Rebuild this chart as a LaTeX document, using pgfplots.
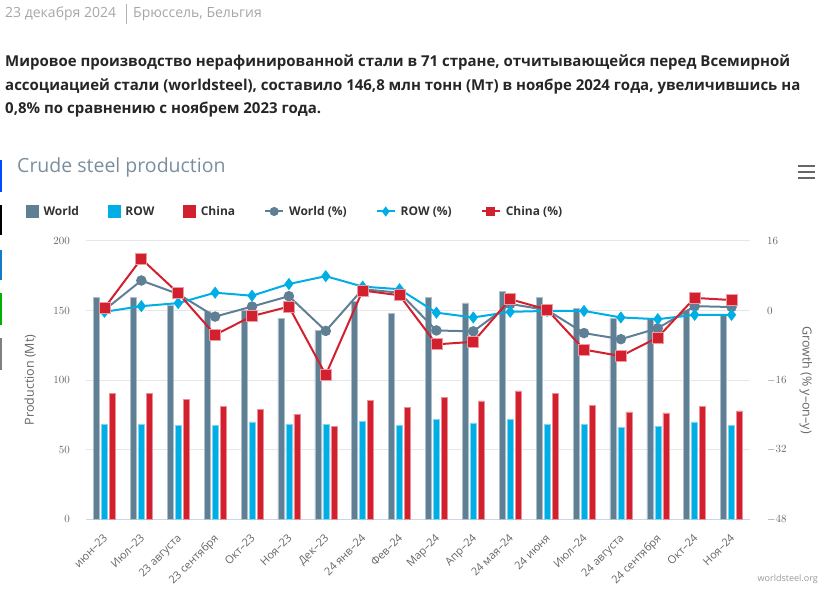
\documentclass[border=0pt]{standalone}
\usepackage{pgfplots}
\usepackage{pgfplotstable}
\pgfplotsset{compat=1.18}
\usepackage{fontspec}
\setmainfont{Open Sans}

\definecolor{cWorld}{HTML}{5F7F95}
\definecolor{cRow}{HTML}{00AEE6}
\definecolor{cChina}{HTML}{D3202E}
\definecolor{tickgray}{HTML}{666666}
\definecolor{gridgray}{HTML}{E6E6E6}
\definecolor{axisline}{HTML}{CCD6EB}
\definecolor{titlegray}{HTML}{7B8E9E}
\definecolor{legtext}{HTML}{333333}

% production (Mt) and growth (% y-on-y)
\pgfplotstableread{
idx world row  china wpct rpct cpct
0   159.2 68.3 90.4   0.1 -0.3   0.6
1   159.2 68.3 90.4   6.9  1.0  11.9
2   154.0 67.6 86.3   3.8  1.7   4.0
3   149.6 67.6 81.0  -1.4  4.1  -5.6
4   150.0 69.8 78.6   0.9  3.4  -1.3
5   144.4 68.3 75.5   3.3  6.1   0.9
6   135.7 68.3 66.7  -4.7  7.9 -14.8
7   156.8 70.5 85.6   4.9  5.5   4.6
8   148.2 67.6 80.1   4.1  4.9   3.5
9   159.2 71.5 87.3  -4.6 -0.5  -7.8
10  155.4 69.1 84.9  -4.8 -1.6  -7.2
11  164.0 71.5 92.1   1.5 -0.3   2.6
12  159.2 68.3 90.4   0.1 -0.1   0.2
13  151.3 68.3 82.0  -5.2 -0.1  -9.0
14  144.1 66.0 77.0  -6.6 -1.6 -10.5
15  143.7 66.9 76.3  -4.1 -2.0  -6.2
16  150.4 69.8 81.0   1.0 -1.0   2.9
17  146.8 67.6 77.7   0.8 -1.0   2.4
}\steel

\pgfplotsset{
  common/.style={
    at={(86pt,71pt)}, anchor=south west,
    scale only axis, width=664pt, height=278pt,
    xmin=-0.5, xmax=17.5,
    major tick length=0pt,
    tick label style={font=\fontsize{11}{13}\selectfont, text=tickgray},
  },
  sqleg/.style={legend image code/.code={\fill[#1] (0pt,-6pt) rectangle (12pt,6pt);}},
  lineleg/.style={legend image code/.code={\draw[mark repeat=2, mark phase=2, ##1] plot coordinates {(0pt,0pt) (9pt,0pt) (18pt,0pt)};}},
}

\begin{document}
\begin{tikzpicture}[x=1pt,y=1pt]
\path (0,0) rectangle (831,590);

% page header
\node[anchor=west, inner sep=0pt, text=gray!70, font=\fontsize{14}{16}\selectfont] at (5,576) {23 декабря 2024};
\draw[gray!60, line width=0.8pt] (126,566) -- (126,586);
\node[anchor=west, inner sep=0pt, text=gray!70, font=\fontsize{14}{16}\selectfont] at (133,576) {Брюссель, Бельгия};
\node[anchor=west, inner sep=0pt, text=black!85, font=\bfseries\fontsize{15}{18}\selectfont] at (5,528) {Мировое производство нерафинированной стали в 71 стране, отчитывающейся перед Всемирной};
\node[anchor=west, inner sep=0pt, text=black!85, font=\bfseries\fontsize{15}{18}\selectfont] at (5,504) {ассоциацией стали (worldsteel), составило 146,8 млн тонн (Мт) в ноябре 2024 года, увеличившись на};
\node[anchor=west, inner sep=0pt, text=black!85, font=\bfseries\fontsize{15}{18}\selectfont] at (5,480) {0,8\% по сравнению с ноябрем 2023 года.};

% page side marks and menu icon
\fill[blue!70!cyan] (0,398) rectangle (2,430);
\fill[black] (0,355) rectangle (2,385);
\fill[cyan!60!blue] (0,310) rectangle (2,340);
\fill[green!70!black] (0,265) rectangle (2,297);
\fill[gray] (0,220) rectangle (2,252);
\foreach \yy in {412,418,424} \draw[tickgray, line width=2.5pt] (798,\yy) -- (815,\yy);

\node[anchor=west, inner sep=0pt, text=titlegray, font=\fontsize{19.5}{24}\selectfont] at (17,423) {Crude steel production};
\node[anchor=east, inner sep=0pt, text=gray!80, font=\fontsize{9}{11}\selectfont] at (818,11) {worldsteel.org};

% bars, left axis
\begin{axis}[common,
  ymin=0, ymax=200, ytick={0,50,...,200},
  ymajorgrids, grid style={gridgray, line width=1pt},
  axis lines*=left,
  y axis line style={draw=none},
  x axis line style={axisline, line width=1pt},
  xtick={0,...,17},
  xticklabels={июн–23, Июл–23, 23 августа, 23 сентября, Окт–23, Ноя–23, Дек–23, 24 янв–24, Фев–24, Мар–24, Апр–24, 24 мая–24, 24 июня, Июл–24, 24 августа, 24 сентября, Окт–24, Ноя–24},
  xticklabel style={inner sep=0pt, anchor=north east, xshift=-2pt, yshift=-14pt, rotate=45},
  yticklabel style={inner sep=0pt, anchor=east, xshift=-16pt},
  ylabel={Production (Mt)},
  every axis y label/.style={at={(axis description cs:-0.084,0.5)}, anchor=center, rotate=90,
    font=\fontsize{12.5}{14}\selectfont, text=tickgray},
]
\addplot[ybar, bar width=6pt, bar shift=-8pt, fill=cWorld, draw=cWorld!50!white, line width=0.5pt] table[x=idx, y=world] {\steel};
\addplot[ybar, bar width=6pt, bar shift=0pt, fill=cRow, draw=cRow!50!white, line width=0.5pt] table[x=idx, y=row] {\steel};
\addplot[ybar, bar width=6pt, bar shift=8pt, fill=cChina, draw=cChina!50!white, line width=0.5pt] table[x=idx, y=china] {\steel};
\end{axis}

% growth lines, right axis
\begin{axis}[common,
  ymin=-48, ymax=16, ytick={-48,-32,...,16},
  axis y line*=right, axis x line=none,
  y axis line style={draw=none},
  yticklabel style={inner sep=0pt, anchor=west, xshift=17pt},
  ylabel={Growth (\% y–on–y)},
  every axis y label/.style={at={(axis description cs:1.084,0.5)}, anchor=center, rotate=-90,
    font=\fontsize{12.5}{14}\selectfont, text=tickgray},
  legend columns=6,
  legend style={at={(axis description cs:0,1)}, anchor=south west, xshift=-60pt, yshift=22pt,
    draw=none, fill=none, inner sep=0pt,
    font=\bfseries\fontsize{12}{14}\selectfont, text=legtext,
    /tikz/every odd column/.style={column sep=3pt},
    /tikz/every even column/.style={column sep=27pt}},
  legend cell align=left,
]
\addplot[forget plot, cWorld, line width=2pt, mark=*, mark size=4.2pt] table[x=idx, y=wpct] {\steel};
\addplot[forget plot, cRow, line width=2pt, mark=diamond*, mark size=4.5pt] table[x=idx, y=rpct] {\steel};
\addplot[forget plot, cChina, line width=2pt, mark=square*, mark size=5.5pt, mark options={draw=cChina!45!white, line width=0.8pt}] table[x=idx, y=cpct] {\steel};

\addlegendimage{sqleg=cWorld}
\addlegendentry{World}
\addlegendimage{sqleg=cRow}
\addlegendentry{ROW}
\addlegendimage{sqleg=cChina}
\addlegendentry{China}
\addlegendimage{lineleg, cWorld, line width=2pt, mark=*, mark size=3.5pt}
\addlegendentry{World (\%)}
\addlegendimage{lineleg, cRow, line width=2pt, mark=diamond*, mark size=3.5pt}
\addlegendentry{ROW (\%)}
\addlegendimage{lineleg, cChina, line width=2pt, mark=square*, mark size=3.5pt}
\addlegendentry{China (\%)}
\end{axis}
\end{tikzpicture}
\end{document}
